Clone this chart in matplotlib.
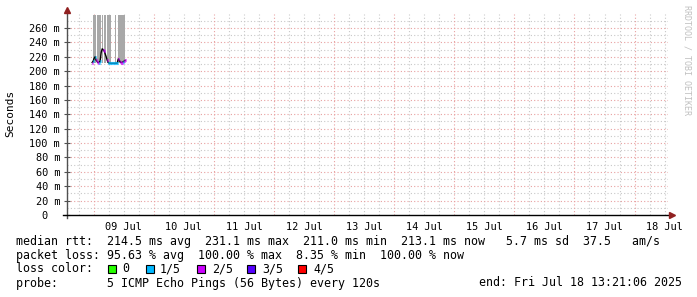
import numpy as np
import matplotlib.pyplot as plt
from matplotlib.patches import Rectangle

# ========================
# === DATI ===============
# ========================

# ore rispetto a 09 Jul 00:00 ; finestra di 10 giorni che termina il 18 Jul 13:21
t_start = -10.65
t_end = 229.35

day_labels = ["09 Jul", "10 Jul", "11 Jul", "12 Jul", "13 Jul",
              "14 Jul", "15 Jul", "16 Jul", "17 Jul", "18 Jul"]

# mediana rtt [ms] e livello di perdita (-1 = nessun colore, 1 = 1/5, 2 = 2/5)
med_t = [-0.6, -0.2, 0.2, 0.6, 1.0, 1.4, 1.8, 2.2, 2.6, 3.0, 3.4, 3.8, 4.2, 4.6,
         5.0, 5.4, 5.8, 6.2, 6.6, 7.0, 7.4, 7.8, 8.2, 8.6, 9.0, 9.4, 9.8, 10.2,
         10.6, 11.0, 11.4, 11.8, 12.2, 12.6]
med_ms = [212, 214, 218, 220, 215, 213, 212, 212, 214, 226, 231, 230, 228, 224,
          220, 215, 212, 211, 211, 211, 211, 211, 211, 211, 211, 211, 217, 215,
          213, 212, 212, 213, 214, 215]
med_loss = [2, 1, -1, 1, 2, 2, 2, 1, 1, -1, -1, 2, 2, -1,
            -1, 2, 1, 1, 1, 1, 1, 1, 1, 1, 1, 1, 2, -1,
            2, 2, 2, 1, 2, 2]

# fumo (smoke) grigio: intervalli [ore]
smoke_start = [-0.2, 1.5, 3.5, 4.3, 5.5, 7.7, 8.5, 9.9]
smoke_end = [0.8, 2.9, 3.9, 4.9, 7.0, 7.9, 8.9, 12.6]
smoke_bottom = 211
smoke_top = 278

loss_labels = ["0", "1/5", "2/5", "3/5", "4/5"]
loss_colors = ["#26ff00", "#00b8ff", "#cc00ff", "#5500ff", "#ff0000"]

legend_lines = [
    "median rtt:  214.5 ms avg  231.1 ms max  211.0 ms min  213.1 ms now   5.7 ms sd  37.5   am/s",
    "packet loss: 95.63 % avg  100.00 % max  8.35 % min  100.00 % now",
]
probe_line = "probe:       5 ICMP Echo Pings (56 Bytes) every 120s"
end_line = "end: Fri Jul 18 13:21:06 2025"

# ========================
# === FIGURA =============
# ========================

W, H = 697, 297
MONO = "DejaVu Sans Mono"

fig = plt.figure(figsize=(W / 100, H / 100), dpi=100)
ax = fig.add_axes([67 / W, 1 - 215 / H, 601 / W, (215 - 13.6) / H])
ax.set_xlim(t_start, t_end)
ax.set_ylim(0, 280)

# griglia
midnights = np.arange(24, t_end, 24)
midnights = np.concatenate(([0], midnights))
six_h = np.arange(-6, t_end, 6)
for x in six_h:
    if x in midnights:
        continue
    ax.axvline(x, color="#c8c8c8", lw=0.8, ls=(0, (1, 2)), zorder=0)
for y in range(10, 280, 20):
    ax.axhline(y, color="#c8c8c8", lw=0.8, ls=(0, (1, 2)), zorder=0)
for x in midnights:
    ax.axvline(x, color="#e8a0a0", lw=0.8, ls=(0, (1, 2)), zorder=0.5)
for y in range(20, 280, 20):
    ax.axhline(y, color="#e8a0a0", lw=0.8, ls=(0, (1, 2)), zorder=0.5)

# smoke
widths = [e - s for s, e in zip(smoke_start, smoke_end)]
ax.bar(smoke_start, [smoke_top - smoke_bottom] * len(smoke_start), width=widths,
       bottom=smoke_bottom, align="edge", color="#a8a8a8", lw=0, zorder=1)

# mediana
ax.plot(med_t, med_ms, color="black", lw=1.0, zorder=2)
for t, v, l in zip(med_t, med_ms, med_loss):
    if l >= 0:
        ax.plot([t - 0.25, t + 0.25], [v, v], color=loss_colors[l], lw=2.2,
                solid_capstyle="butt", zorder=3)

# assi
for s in ax.spines.values():
    s.set_visible(False)
ax.plot([0, 0], [-0.015, 1.02], transform=ax.transAxes, color="#505050",
        lw=1.0, clip_on=False, zorder=4)
ax.plot([-0.007, 1.006], [0, 0], transform=ax.transAxes, color="black",
        lw=1.0, clip_on=False, zorder=4)
ax.plot([0], [1.02], marker="^", ms=4, color="#902020", transform=ax.transAxes,
        clip_on=False, zorder=5)
ax.plot([1.007], [0], marker=">", ms=4, color="#902020", transform=ax.transAxes,
        clip_on=False, zorder=5)

yt = list(range(0, 270, 20))
ylab = ["0  "] + [f"{v} m" for v in yt[1:]]
ax.set_yticks(yt, ylab)
ax.set_xticks(np.arange(12, t_end, 24), day_labels)
ax.tick_params(axis="y", length=4, direction="inout", color="#505050", pad=3,
               labelsize=7.4, labelfontfamily=MONO)
ax.tick_params(axis="x", length=0, pad=5, labelsize=7.4, labelfontfamily=MONO)

# testi
fig.text(10.5 / W, 1 - 113 / H, "Seconds", rotation=90, ha="center", va="center",
         family=MONO, fontsize=8)
fig.text(687 / W, 1 - 5 / H, "RRDTOOL / TOBI OETIKER", rotation=270, ha="center",
         va="top", family=MONO, fontsize=6, color="#c0c0c0")

for i, line in enumerate(legend_lines):
    fig.text(16 / W, 1 - (241 + 14 * i) / H, line, ha="left", va="center",
             family=MONO, fontsize=8.4)

fig.text(16 / W, 1 - 269 / H, "loss color:", ha="left", va="center",
         family=MONO, fontsize=8.4)
sw_x = [108, 146, 197, 247, 298]
lab_x = [122, 160, 212, 262, 313]
for sx, lx, lab, col in zip(sw_x, lab_x, loss_labels, loss_colors):
    fig.patches.append(Rectangle((sx / W, 1 - 273 / H), 8 / W, 8 / H,
                                 transform=fig.transFigure, facecolor=col,
                                 edgecolor="black", lw=0.8))
    fig.text(lx / W, 1 - 269 / H, lab, ha="left", va="center",
             family=MONO, fontsize=8.4)

fig.text(16 / W, 1 - 283 / H, probe_line, ha="left", va="center",
         family=MONO, fontsize=8.4)
fig.text(682 / W, 1 - 283 / H, end_line, ha="right", va="center",
         family=MONO, fontsize=8.4)

fig.savefig("out.png", dpi=100)
